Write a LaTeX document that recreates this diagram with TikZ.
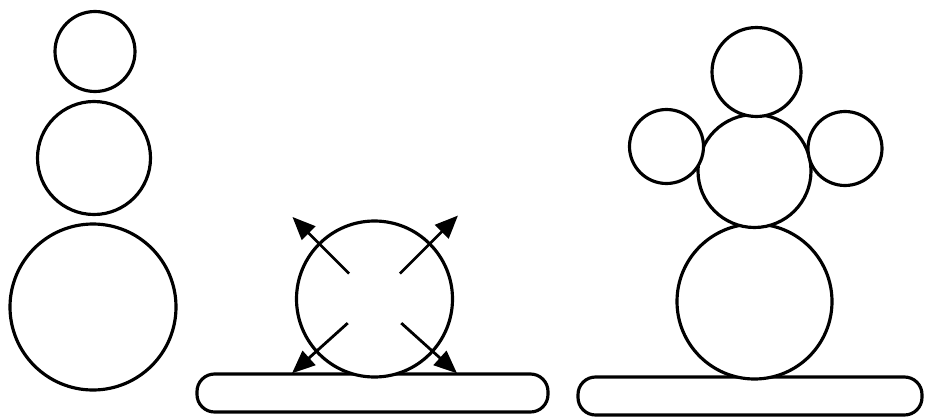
\documentclass[tikz,border=0pt]{standalone}
\usepackage{tikz}
\usetikzlibrary{arrows.meta,positioning,calc}
\tikzset{
  ball/.style={circle, draw=black, fill=white, line width=1.8pt, minimum size=#1, inner sep=0pt},
  ball/.default={2cm},
  ground/.style={rectangle, rounded corners=10pt, draw=black, line width=1.8pt,
                 minimum height=0.76cm, inner sep=0pt},
  arr/.style={-{Triangle[length=4.6mm, width=3.8mm]}, line width=1.6pt, black},
}
\begin{document}
\begin{tikzpicture}[x=1cm, y=1cm]
\useasboundingbox (0,0) rectangle (18.5,8.36);
% left snowman
\node[ball=1.6cm] (headA) at (1.90,7.33) {};
\node[ball=2.26cm] (bodyA) at (1.88,5.20) {};
\node[ball=3.32cm] (baseA) at (1.86,2.22) {};
% rolling ball on the ground
\node[ground, minimum width=7.02cm] (groundB) at (7.45,0.50) {};
\node[ball=3.12cm] (ballB) at (7.49,2.38) {};
\foreach \a/\d in {135/2.32, 45/2.36, 222/2.22, 318/2.22} {
  \coordinate (s\a) at ($(ballB.center)+(\a:0.72)$);
  \coordinate (t\a) at ($(ballB.center)+(\a:\d)$);
  \draw[arr] (s\a) -- (t\a);
}
% right snowman
\node[ground, minimum width=6.88cm] (groundC) at (15.00,0.44) {};
\node[ball=3.1cm] (baseC) at (15.09,2.33) {};
\node[ball=2.26cm] (bodyC) at (15.09,4.94) {};
\node[ball=1.78cm] (headC) at (15.13,6.92) {};
\node[ball=1.48cm] (armL) at (13.33,5.43) {};
\node[ball=1.48cm] (armR) at (16.90,5.39) {};
\end{tikzpicture}
\end{document}
